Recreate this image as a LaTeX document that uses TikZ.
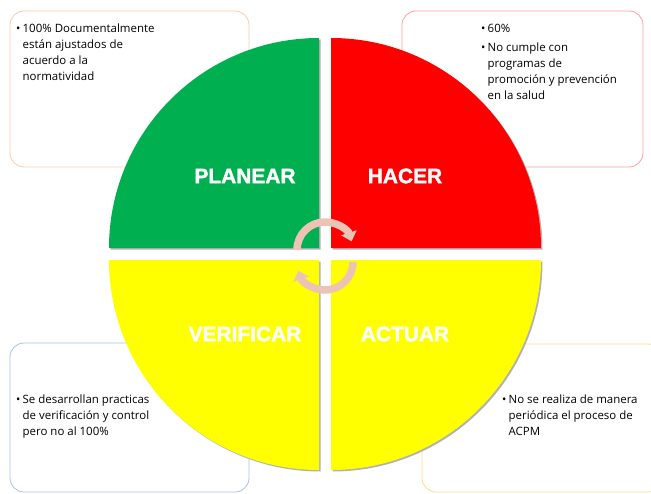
\documentclass[tikz,border=0pt]{standalone}
\usepackage{fontspec}
\setmainfont{Open Sans}
\newfontfamily\phasefont[BoldFeatures={FakeBold=1.6}]{Liberation Sans}
\usetikzlibrary{arrows.meta}
\definecolor{planeargreen}{HTML}{00B050}
\definecolor{hacerred}{HTML}{FF0000}
\definecolor{checkyellow}{HTML}{FFFF00}
\definecolor{turnpink}{HTML}{EDC3B6}
\definecolor{edgepeach}{HTML}{F8CBAD}
\definecolor{edgerose}{HTML}{FF9F9F}
\definecolor{edgeblue}{HTML}{A9C1E6}
\definecolor{edgegold}{HTML}{FFDB8A}
\newcommand{\itm}[1]{\makebox[6.5bp][l]{\textbullet}\begin{tabular}[t]{@{}l@{}}#1\end{tabular}}

\begin{document}
\begin{tikzpicture}[x=1bp,y=-1bp,
  box/.style={draw,rounded corners=14bp,line width=0.8bp,fill=white,inner sep=0pt},
  note/.style={anchor=north west,inner sep=0pt,align=left,font=\fontsize{11.5}{16}\selectfont},
  quad/.style={preaction={fill=black!30,transform canvas={shift={(1.5,1.5)}}}},
  phase/.style={text=white,font=\phasefont\bfseries\fontsize{21}{24}\selectfont},
  turn/.style={line width=7.5bp,draw=turnpink,-{Triangle[width=16bp,length=9bp]}}]
  \useasboundingbox (0,0) rectangle (651,494);
  \clip (0,0) rectangle (651,494);
  % boxes behind the circle
  \node[box,draw=edgepeach,minimum width=239bp,minimum height=156bp] (boxplan) at (129.5,89) {};
  \node[box,draw=edgerose,minimum width=241bp,minimum height=156bp] (boxhacer) at (522.5,89) {};
  \node[box,draw=edgeblue,minimum width=239bp,minimum height=149bp] (boxverif) at (129.5,417.5) {};
  \node[box,draw=edgegold,minimum width=240bp,minimum height=148bp] (boxactuar) at (542,418) {};
  % quadrants
  \fill[quad,planeargreen] (319,248) -- (109,248) arc[start angle=180,end angle=270,radius=210] -- cycle;
  \fill[quad,hacerred] (331,248) -- (331,38) arc[start angle=270,end angle=360,radius=210] -- cycle;
  \fill[quad,checkyellow] (319,260) -- (319,470) arc[start angle=90,end angle=180,radius=210] -- cycle;
  \fill[quad,checkyellow] (331,260) -- (541,260) arc[start angle=0,end angle=90,radius=210] -- cycle;
  \node[phase] (planear) at (245,176) {PLANEAR};
  \node[phase] (hacer) at (405,176) {HACER};
  \node[phase] (verificar) at (245,334) {VERIFICAR};
  \node[phase] (actuar) at (405,334) {ACTUAR};
  % cycle arrows
  \draw[turn] (325,250) ++(180:28) arc[start angle=180,end angle=342,radius=28];
  \draw[turn] (325,262) ++(0:28) arc[start angle=0,end angle=162,radius=28];
  % notes
  \node[note] (noteplan) at (16,21) {\itm{100\% Documentalmente\\están ajustados de\\acuerdo a la\\normatividad}};
  \node[note] (notehacer) at (481,21) {\itm{60\%}\\[3bp]\itm{No cumple con\\programas de\\promoción y prevención\\en la salud}};
  \node[note] (noteverif) at (16,392) {\itm{Se desarrollan practicas\\de verificación y control\\pero no al 100\%}};
  \node[note] (noteactuar) at (502,392) {\itm{No se realiza de manera\\periódica el proceso de\\ACPM}};
\end{tikzpicture}
\end{document}
